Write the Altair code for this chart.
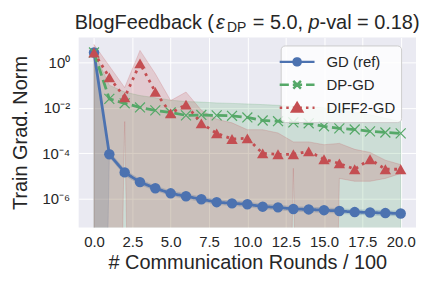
import math
import altair as alt
import pandas as pd

# ---------------- data ----------------
rounds = list(range(21))
series_names = ["GD (ref)", "DP-GD", "DIFF2-GD"]
series_colors = ["#4C72B0", "#55A868", "#C44E52"]

gd_mean = [2.75, 9.1e-5, 1.45e-5, 5.4e-6, 2.9e-6, 1.74e-6, 1.29e-6, 9.5e-7, 7.1e-7, 6.3e-7, 5.75e-7,
           4.5e-7, 4.2e-7, 3.55e-7, 3.4e-7, 3.15e-7, 2.9e-7, 2.6e-7, 2.5e-7, 2.35e-7, 2.25e-7]
gd_hi = [2.9, 1.2e-4, 1.9e-5, 7.0e-6, 3.7e-6, 2.2e-6, 1.65e-6, 1.2e-6, 9.0e-7, 8.0e-7, 7.3e-7,
         5.7e-7, 5.3e-7, 4.5e-7, 4.3e-7, 4.0e-7, 3.7e-7, 3.3e-7, 3.2e-7, 3.0e-7, 2.85e-7]
gd_lo = [1e-40, 7.0e-5, 1.1e-5, 4.2e-6, 2.3e-6, 1.4e-6, 1.0e-6, 7.5e-7, 5.6e-7, 5.0e-7, 4.5e-7,
         3.6e-7, 3.3e-7, 2.8e-7, 2.7e-7, 2.5e-7, 2.3e-7, 2.05e-7, 1.95e-7, 1.85e-7, 1.75e-7]

dp_mean = [2.75, 2.5e-2, 1.6e-2, 1.05e-2, 7.8e-3, 6.3e-3, 4.7e-3, 4.9e-3, 4.7e-3, 4.5e-3, 3.8e-3,
           2.8e-3, 2.6e-3, 2.3e-3, 2.1e-3, 1.55e-3, 1.26e-3, 1.12e-3, 9.3e-4, 8.3e-4, 7.6e-4]
dp_hi = [2.9, 0.1, 0.05, 0.035, 0.028, 0.022, 0.019, 0.018, 0.0166, 0.0158, 0.015,
         0.014, 0.013, 0.012, 0.011, 0.010, 0.0079, 0.0063, 0.005, 0.0035, 0.0025]
dp_lo = [1e-40] * 21

df2_mean = [2.75, 0.22, 0.029, 0.91, 0.051, 5.8e-3, 0.014, 2.1e-3, 7.6e-4, 4.3e-4, 4.6e-4,
            1.0e-4, 9.1e-5, 9.1e-5, 1.23e-4, 5.5e-5, 3.6e-5, 2.0e-5, 5.5e-5, 2.0e-5, 2.0e-5]
df2_hi = [6.2, 0.7, 0.079, 3.4, 0.32, 0.021, 0.05, 7.9e-3, 3.2e-3, 2.2e-3, 1.1e-3,
          1.1e-3, 7.9e-4, 3.2e-4, 3.2e-4, 2.4e-4, 2.75e-4, 1.5e-4, 1.1e-4, 5.0e-5, 3.2e-5]
df2_lo = [1e-40, 1e-40, 2.5e-3, 1e-40, 1e-40, 1e-40, 1e-40, 1e-40, 1e-40, 1e-40, 1e-40,
          1e-40, 1e-40, 2.2e-5, 1e-40, 1e-40, 7.9e-6, 5.9e-6, 5.9e-6, 7.9e-6, 1.3e-5]

x_ticks = [0, 2.5, 5, 7.5, 10, 12.5, 15, 17.5, 20]
y_ticks = [1, 1e-2, 1e-4, 1e-6]
y_tick_labels = ["10\u2070", "10\u207b\u00b2", "10\u207b\u2074", "10\u207b\u2076"]

title_parts = ["BlogFeedback (", "\u03b5", "DP", "= 5.0,", "p", "-val = 0.18)"]
x_title = "# Communication Rounds / 100"
y_title = "Train Grad. Norm"

# ---------------- table ----------------
means = [gd_mean, dp_mean, df2_mean]
his = [gd_hi, dp_hi, df2_hi]
los = [gd_lo, dp_lo, df2_lo]
rows = []
for s, m, h, l in zip(series_names, means, his, los):
    for r, mv, hv, lv in zip(rounds, m, h, l):
        rows.append({"series": s, "round": r, "mean": mv, "hi": hv, "lo": lv})
df = pd.DataFrame(rows)

FONT = "Liberation Sans"
TXT = "#262626"

xscale = alt.Scale(domain=[-1, 21], nice=False, zero=False)
yscale = alt.Scale(type="log", domain=[5.4e-8, 12.6], nice=False)

ylab_expr = "".join(
    f"abs(log(datum.value)/LN10 - ({math.log10(v):.3f})) < 0.01 ? '{lab}' : "
    for v, lab in zip(y_ticks, y_tick_labels)
) + "''"

xaxis = alt.Axis(values=x_ticks, format=".1f", title=x_title, labelPadding=7, titlePadding=3)
yaxis = alt.Axis(values=y_ticks, labelExpr=ylab_expr, title=y_title, labelPadding=9, titlePadding=11)


def X():
    return alt.X("round:Q", scale=xscale, axis=xaxis)


def Y(field):
    return alt.Y(f"{field}:Q", scale=yscale, axis=yaxis)


base = alt.Chart(df)

layers = []
# bands
for s, c in zip(series_names, series_colors):
    layers.append(
        base.transform_filter(alt.datum.series == s)
        .mark_area(fill=c, fillOpacity=0.2, stroke=c, strokeOpacity=0.2, strokeWidth=1, clip=True)
        .encode(x=X(), y=Y("hi"), y2="lo:Q")
    )

dashes = [[1, 0], [10, 4.5], [2.8, 4.6]]
marker_shapes = ["circle", "M-1,-1L1,1M-1,1L1,-1", "triangle-up"]
marker_sizes = [110, 100, 130]
marker_filled = [True, False, True]
for s, c, d, shp, sz, fl in zip(series_names, series_colors, dashes, marker_shapes, marker_sizes, marker_filled):
    sub = base.transform_filter(alt.datum.series == s)
    layers.append(
        sub.mark_line(color=c, strokeWidth=2.8, strokeDash=d, strokeCap="butt", clip=True)
        .encode(x=X(), y=Y("mean"), order="round:Q")
    )
    if fl:
        pm = sub.mark_point(shape=shp, size=sz, filled=True, color=c, opacity=1, strokeWidth=0, clip=True)
    else:
        pm = sub.mark_point(shape=shp, size=sz, filled=False, color=c, opacity=1, strokeWidth=1.2, clip=True)
    layers.append(pm.encode(x=X(), y=Y("mean")))


# legend (drawn by the library's legend from an empty-data layer with explicit domains)
def poly_circle(r, n=14):
    pts = [(r * math.cos(2 * math.pi * k / n), r * math.sin(2 * math.pi * k / n)) for k in range(n)]
    return "M" + "L".join(f"{x:.3f},{y:.3f}" for x, y in pts) + "Z"


leg_gd = "M-1.75,0H1.75" + poly_circle(0.36)
leg_dp = "M-1.75,0H-0.83M-0.43,0H0.5M0.9,0H1.75M-0.38,-0.38L0.38,0.38M-0.38,0.38L0.38,-0.38"
leg_df = ("M-1.75,0H-1.5M-1.09,0H-0.84M-0.43,0H-0.18M0.23,0H0.48M0.89,0H1.14M1.55,0H1.75"
          "M0,-0.45L0.5,0.38L-0.5,0.38Z")
legend_paths = [leg_gd, leg_dp, leg_df]

lg = alt.Legend(title=None)
legend_layer = (
    base.transform_filter("datum.round < -100")
    .mark_point(filled=True, opacity=1, strokeWidth=2.5, clip=True)
    .encode(
        x=X(), y=Y("mean"),
        fill=alt.Fill("series:N", scale=alt.Scale(domain=series_names, range=series_colors), legend=lg),
        stroke=alt.Stroke("series:N", scale=alt.Scale(domain=series_names, range=series_colors), legend=lg),
        shape=alt.Shape("series:N", scale=alt.Scale(domain=series_names, range=legend_paths), legend=lg),
    )
)
layers.append(legend_layer)

# title built from text pieces (mixed italics / subscript)
tdata = pd.DataFrame({"t": title_parts})
t_x = [-4, 138, 149, 175, 231, 242]
t_y = [-8.3, -8.3, -5.6, -8.3, -8.3, -8.3]
t_size = [20, 20, 14, 20, 20, 20]
t_style = ["normal", "italic", "normal", "normal", "italic", "normal"]
for i, part in enumerate(title_parts):
    layers.append(
        alt.Chart(tdata).transform_filter(alt.datum.t == part)
        .mark_text(align="left", baseline="alphabetic", font=FONT, fontSize=t_size[i],
                   fontStyle=t_style[i], color=TXT)
        .encode(text="t:N", x=alt.value(t_x[i]), y=alt.value(t_y[i]))
    )

chart = (
    alt.layer(*layers)
    .properties(
        width=339, height=191,
        autosize=alt.AutoSizeParams(type="none"),
        padding={"left": 71, "top": 29, "right": 8, "bottom": 45},
        background="white",
    )
    .configure_view(fill="#EAEAF2", stroke=None)
    .configure_axis(
        grid=True, gridColor="white", gridWidth=1, gridOpacity=1,
        domain=False, ticks=False,
        labelFont=FONT, labelFontSize=15, labelColor=TXT,
        titleFont=FONT, titleFontSize=20, titleColor=TXT, titleFontWeight="normal",
    )
    .configure_legend(
        orient="none", legendX=203, legendY=8, padding=5,
        fillColor="rgba(255,255,255,0.8)", strokeColor="#cccccc", cornerRadius=4,
        labelFont=FONT, labelFontSize=15, labelColor=TXT,
        symbolSize=400, symbolStrokeWidth=2.5, labelOffset=18, rowPadding=2,
    )
)

chart.save("out.html", embed_options={"renderer": "svg", "actions": False})
